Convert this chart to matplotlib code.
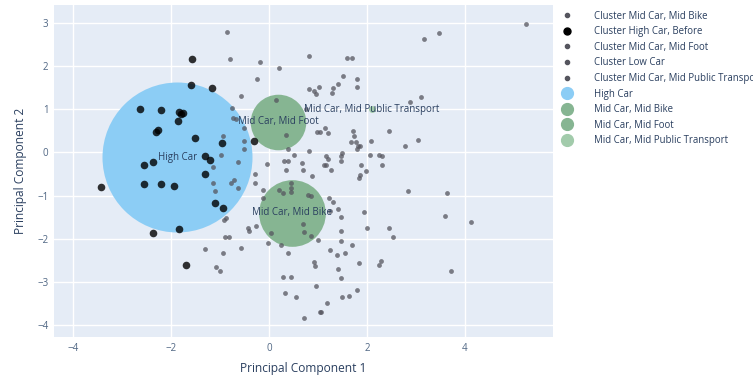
import numpy as np
import matplotlib.pyplot as plt
from matplotlib.lines import Line2D

plt.rcParams['font.family'] = ['Open Sans', 'DejaVu Sans']

# PCA coordinates of the individual respondents, grouped by cluster
high_before_x = [-3.42, -2.37, -1.70, -1.57, -1.16, -0.30, -2.64, -2.21, -1.83, -1.76, -1.80,
                 -1.85, -1.59, -2.27, -2.31, -1.52, -2.56, -2.37, -2.55, -2.20, -1.93, -1.84,
                 -1.30, -1.20, -1.30, -0.95, -1.10, -0.93]
high_before_y = [-0.79, -1.87, -2.60, 2.16, 1.49, 0.27, 1.02, 0.98, 0.94, 0.92, 0.90,
                 0.73, 1.56, 0.52, 0.48, 0.34, -0.28, -0.21, -0.74, -0.74, -0.77, -1.77,
                 -0.09, -0.18, -0.49, 0.22, -1.17, -1.29]

mid_foot_x = [-0.51, -0.50, -0.98, -0.64, -1.15, -1.15, -1.11, -0.77, -0.71, -0.64, -0.74,
              -0.67, -0.50, -0.94, -0.75, -0.86, -0.79, -0.18, 0.21, -0.25, -0.58, 0.14,
              0.35, -0.05, 0.31, 0.38, -0.28, -0.28, -0.13, -0.13]
mid_foot_y = [0.26, 0.09, -0.05, -0.23, -0.33, -0.71, -0.90, -0.70, -0.63, -0.82, 0.80,
              0.77, 0.57, 0.38, 1.04, 2.80, 2.16, 2.11, 1.95, 1.71, 1.30, 1.22,
              0.40, -0.26, -0.20, -0.19, -0.49, -0.71, -0.86, -1.05]

mid_bike_x = [0.45, 0.46, 0.46, 0.21, 0.28, 0.80, 0.86, 0.04, 0.69, 0.72, 0.86, -0.43,
              -0.40, -0.26, -0.88, -0.92, -0.89, -0.81, -1.30, -0.94, -0.58, -1.08, -0.99,
              -0.03, 0.24, 0.38, 0.92, 0.94, 1.01, 0.28, 0.46, 0.33, 0.55, 0.96, 1.04, 0.71,
              0.67, 0.69, 0.88, 0.35]
mid_bike_y = [-0.71, -0.82, -0.92, -0.86, -0.94, -0.98, -1.02, -1.87, -1.67, -1.85, -1.93, -1.75,
              -1.83, -1.71, -1.52, -1.56, -1.95, -1.95, -2.24, -2.32, -2.22, -2.66, -2.76,
              -2.09, -2.14, -2.32, -2.53, -2.63, -2.04, -2.88, -2.88, -3.25, -3.36, -3.09, -3.71, -3.84,
              -0.24, -0.41, -0.55, -0.40]

low_car_x = [1.26, 2.84, 3.64, 3.60, 4.13, 3.71, 1.23, 1.30, 1.40, 1.48, 1.25, 1.94, 2.01,
             2.45, 2.54, 1.47, 1.48, 1.70, 1.25, 1.38, 1.55, 1.84, 2.28, 2.25, 1.41, 1.48,
             1.79, 1.64, 1.50, 1.18, 1.06, 1.13, 1.16, 1.87, 1.99, 1.86, 1.84, 2.30]
low_car_y = [-0.40, -0.90, -0.94, -1.48, -1.61, -2.76, -1.05, -1.15, -1.31, -1.50, -1.36, -1.39, -1.74,
             -1.74, -1.97, -1.81, -2.05, -2.14, -2.26, -2.37, -2.33, -2.57, -2.51, -2.60, -2.70, -2.91,
             -3.19, -3.32, -3.34, -3.50, -3.69, -0.28, -0.30, -0.30, -0.42, -0.53, -0.59, -0.28]

mid_pt_x = [0.81, 0.82, 0.92, 0.96, 1.02, 0.75, 1.60, 1.70, 1.52, 1.79, 1.79, 1.40, 1.30,
            1.28, 2.89, 3.10, 3.16, 3.47, 5.25, 2.45, 3.05, 2.77, 2.08, 1.72, 1.74, 1.68,
            1.77, 1.81, 1.86, 1.79, 2.06, 2.25, 2.30, 1.50, 1.47, 1.16, 1.21, 1.48, 1.14,
            1.21, 0.99, 1.04, 0.38, 0.52, 0.82]
mid_pt_y = [2.23, 1.47, 1.43, 1.35, 1.52, 1.02, 2.20, 2.18, 1.77, 1.70, 1.53, 1.58, 1.50,
            1.39, 1.18, 1.29, 2.63, 2.78, 2.99, 0.50, 0.30, 0.16, 0.26, 0.50, 0.38, 0.24,
            0.24, 0.15, 0.15, 0.07, -0.06, -0.05, -0.09, -0.01, -0.09, -0.09, -0.15, -0.20, 0.57,
            0.46, 0.47, 0.47, 0.07, -0.05, 0.03]

# cluster centres and bubble sizes (marker diameter in points)
centre_names = ['High Car', 'Mid Car, Mid Bike', 'Mid Car, Mid Foot', 'Mid Car, Mid Public Transport']
centre_x = [-1.87, 0.48, 0.19, 2.10]
centre_y = [-0.11, -1.40, 0.71, 1.00]
centre_size = [108, 48, 40, 5]
centre_colors = ['#8ccdf5', '#86b592', '#86b592', '#a2cbab']

fig = plt.figure(figsize=(7.53, 3.77), dpi=100)
ax = fig.add_axes([0.0717, 0.106, 0.6627, 0.8807])
ax.set_facecolor('#e5ecf6')
for s in ax.spines.values():
    s.set_visible(False)
ax.grid(True, color='white', linewidth=1.0)
ax.set_axisbelow(True)
ax.tick_params(length=0, labelsize=7, labelcolor='#506784', pad=4)

ax.set_xlim(-4.39, 5.80)
ax.set_ylim(-4.28, 3.42)
ax.set_xticks([-4, -2, 0, 2, 4])
ax.set_yticks([-4, -3, -2, -1, 0, 1, 2, 3])

# bubbles for the cluster centres
for n, x, y, d, c in zip(centre_names, centre_x, centre_y, centre_size, centre_colors):
    ax.scatter([x], [y], s=d ** 2, color=c, zorder=2, linewidths=0)
    ax.text(x, y, n, ha='center', va='center', fontsize=7, color='#2a3f5f', zorder=4)

gray = '#55555e'
ax.scatter(mid_bike_x, mid_bike_y, s=12, color=gray, alpha=0.75, linewidths=0, zorder=3)
ax.scatter(high_before_x, high_before_y, s=30, color='black', alpha=0.8, linewidths=0, zorder=3)
ax.scatter(mid_foot_x, mid_foot_y, s=12, color=gray, alpha=0.75, linewidths=0, zorder=3)
ax.scatter(low_car_x, low_car_y, s=12, color=gray, alpha=0.75, linewidths=0, zorder=3)
ax.scatter(mid_pt_x, mid_pt_y, s=12, color=gray, alpha=0.75, linewidths=0, zorder=3)

ax.set_xlabel('Principal Component 1', fontsize=8.6, color='#2a3f5f', labelpad=6)
ax.set_ylabel('Principal Component 2', fontsize=8.6, color='#2a3f5f', labelpad=7)

handles = [
    Line2D([], [], marker='o', ls='', color=gray, ms=3, label='Cluster Mid Car, Mid Bike'),
    Line2D([], [], marker='o', ls='', color='black', ms=5, label='Cluster High Car, Before'),
    Line2D([], [], marker='o', ls='', color=gray, ms=3, label='Cluster Mid Car, Mid Foot'),
    Line2D([], [], marker='o', ls='', color=gray, ms=3, label='Cluster Low Car'),
    Line2D([], [], marker='o', ls='', color=gray, ms=3, label='Cluster Mid Car, Mid Public Transport'),
]
for n, c in zip(centre_names, centre_colors):
    handles.append(Line2D([], [], marker='o', ls='', color=c, ms=8.5, label=n))

fig.legend(handles=handles, loc='upper left', bbox_to_anchor=(0.746, 0.972),
           frameon=False, fontsize=6.9, labelcolor='#2a3f5f', borderpad=0,
           borderaxespad=0, handlelength=1.1, handletextpad=2.3, labelspacing=0.48)

fig.savefig('out.png', dpi=100)
